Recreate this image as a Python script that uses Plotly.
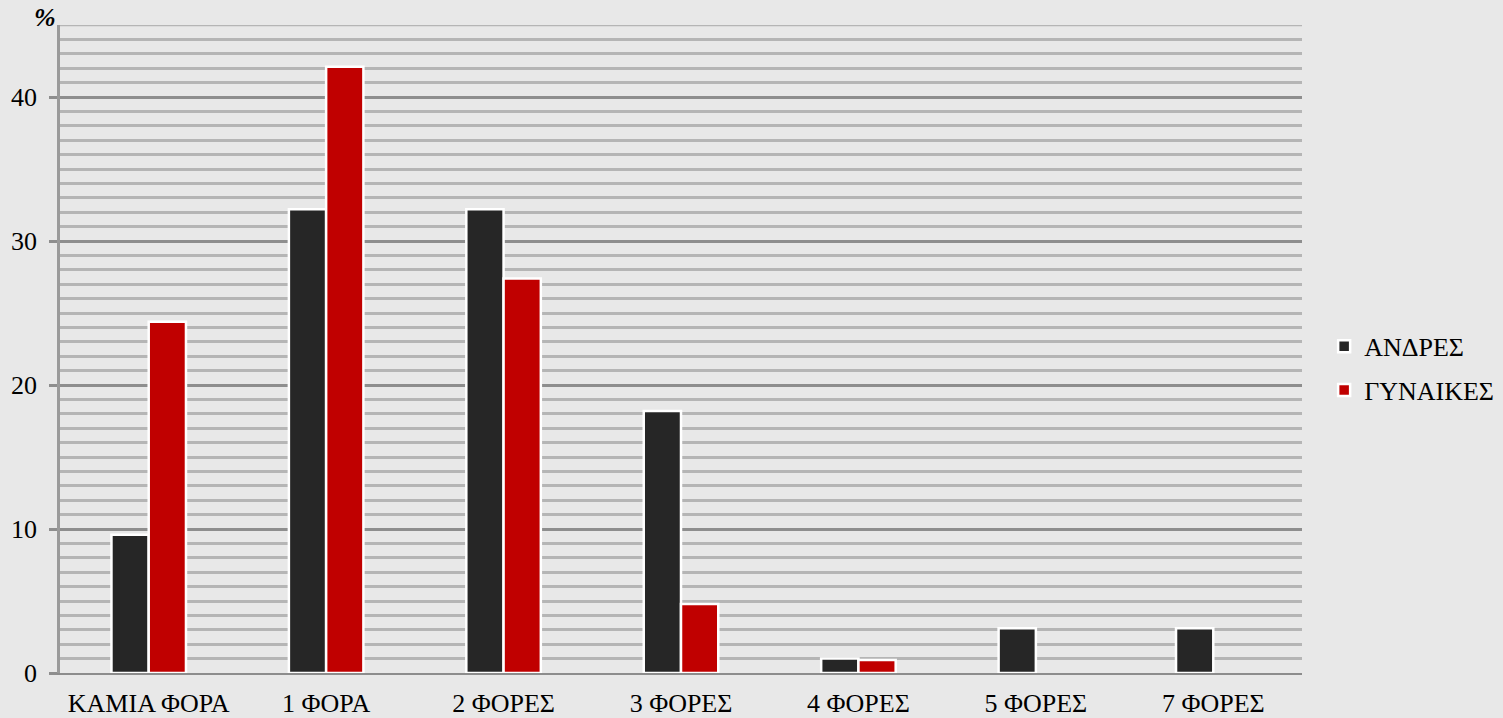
import plotly.graph_objects as go

categories = ["ΚΑΜΙΑ ΦΟΡΑ", "1 ΦΟΡΑ", "2 ΦΟΡΕΣ", "3 ΦΟΡΕΣ", "4 ΦΟΡΕΣ", "5 ΦΟΡΕΣ", "7 ΦΟΡΕΣ"]
men = [9.6, 32.2, 32.2, 18.2, 1.0, 3.1, 3.1]
women = [24.4, 42.1, 27.4, 4.8, 0.9, 0, 0]
y_ticks = [0, 10, 20, 30, 40]

FONT = "Liberation Serif"
BG = "#e8e8e8"


def outline(values):
    # no white outline on empty bars
    return [2.5 if v > 0 else 0 for v in values]


fig = go.Figure()
fig.add_trace(go.Bar(
    name="ΑΝΔΡΕΣ", x=categories, y=men, legendgroup="m",
    marker=dict(color="#262626", line=dict(color="white", width=outline(men))),
))
fig.add_trace(go.Bar(
    name="ΓΥΝΑΙΚΕΣ", x=categories, y=women, legendgroup="w",
    marker=dict(color="#c00000", line=dict(color="white", width=outline(women))),
))

fig.update_layout(
    width=1503, height=718,
    margin=dict(l=60, r=201, t=25, b=45, autoexpand=False),
    paper_bgcolor=BG, plot_bgcolor=BG,
    barmode="group", bargap=0.58, bargroupgap=0,
    font=dict(family=FONT, size=26, color="#000000"),
    showlegend=True,
    legend=dict(xref="container", yref="container", x=0.881, y=0.487,
                xanchor="left", yanchor="middle",
                font=dict(family=FONT, size=26), bgcolor="rgba(0,0,0,0)",
                traceorder="grouped", tracegroupgap=7,
                itemwidth=30),
    xaxis=dict(showgrid=False, showline=True, linecolor="#8c8c8c", linewidth=2,
               ticks="", tickfont=dict(size=26), zeroline=False,
               ticklabelstandoff=6, automargin=False),
    yaxis=dict(range=[0, 45], tickvals=y_ticks, showgrid=True,
               gridcolor="#8e8e8e", gridwidth=2.5,
               minor=dict(dtick=1, showgrid=True, gridcolor="#b5b5b5", gridwidth=2.5),
               showline=True, linecolor="#9a9a9a", linewidth=2.5,
               ticks="outside", ticklen=8, tickwidth=2.5, tickcolor="#8e8e8e",
               tickfont=dict(size=26), zeroline=False,
               ticklabelstandoff=7, automargin=False),
)

fig.add_shape(type="line", xref="paper", yref="y", x0=0, x1=1, y0=45, y1=45,
              line=dict(color="#b5b5b5", width=2.5), layer="below")

fig.add_annotation(text="<b><i>%</i></b>", xref="paper", yref="paper",
                   x=0, y=1.0, xanchor="right", yanchor="middle", yshift=8, xshift=-2,
                   showarrow=False, font=dict(family=FONT, size=26))

fig.write_html("out.html")
